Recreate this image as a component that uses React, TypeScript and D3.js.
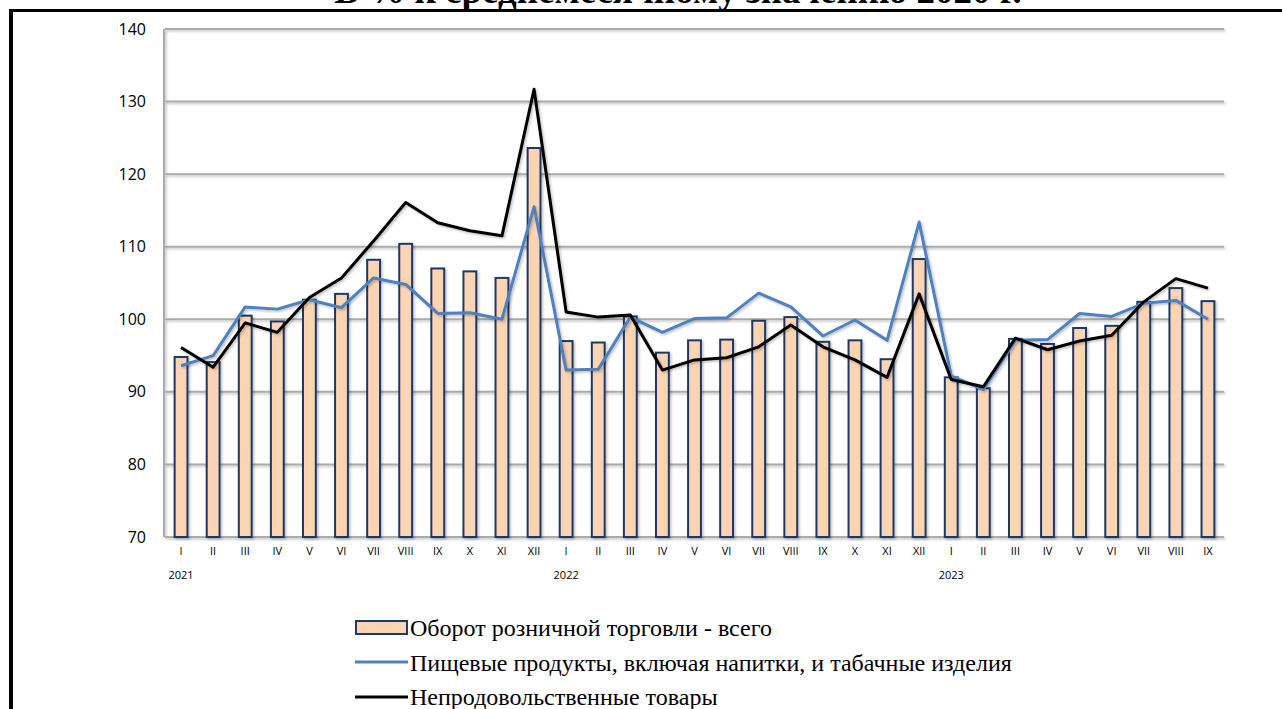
import React from "react";
import * as d3 from "d3";

const months = ["I", "II", "III", "IV", "V", "VI", "VII", "VIII", "IX", "X", "XI", "XII"];
const years = ["2021", "2022", "2023"];

// 2021 I .. 2023 IX
const categories: { month: string; year: string }[] = [];
years.forEach((y, yi) => {
  const n = yi === 2 ? 9 : 12;
  for (let i = 0; i < n; i++) categories.push({ month: months[i], year: y });
});

const totalTurnover = [
  94.8, 94.1, 100.5, 99.7, 102.7, 103.5, 108.2, 110.4, 107.0, 106.6, 105.7, 123.6,
  97.0, 96.8, 100.4, 95.4, 97.1, 97.2, 99.8, 100.3, 96.9, 97.1, 94.5, 108.3,
  92.0, 90.5, 97.3, 96.6, 98.8, 99.1, 102.4, 104.3, 102.5,
];
const foodProducts = [
  93.6, 95.0, 101.7, 101.4, 102.7, 101.6, 105.7, 104.8, 100.8, 100.9, 100.0, 115.5,
  93.0, 93.1, 100.3, 98.2, 100.1, 100.2, 103.6, 101.7, 97.7, 99.9, 97.1, 113.4,
  92.2, 90.3, 97.1, 97.2, 100.8, 100.4, 102.2, 102.6, 100.0,
];
const nonFood = [
  96.1, 93.4, 99.5, 98.2, 103.0, 105.7, 110.8, 116.1, 113.3, 112.2, 111.5, 131.7,
  101.0, 100.3, 100.6, 93.0, 94.4, 94.7, 96.2, 99.2, 96.2, 94.4, 92.0, 103.5,
  91.7, 90.7, 97.4, 95.8, 97.0, 97.8, 102.4, 105.6, 104.3,
];
const yTicks = [70, 80, 90, 100, 110, 120, 130, 140];
const legendLabels = [
  "Оборот розничной торговли - всего",
  "Пищевые продукты, включая напитки, и табачные изделия",
  "Непродовольственные товары",
];

const W = 1282;
const H = 709;
const left = 165;
const right = 1224;
const top = 29;
const bottom = 537;

const sans = "Open Sans, Liberation Sans, sans-serif";
const serif = "Liberation Serif, Times New Roman, DejaVu Serif, serif";

export default function App() {
  const x = d3
    .scaleBand<number>()
    .domain(categories.map((_, i) => i))
    .range([left, right]);
  const y = d3.scaleLinear().domain([70, 140]).range([bottom, top]);
  const barW = x.bandwidth() * 0.4;
  const cx = (i: number) => (x(i) as number) + x.bandwidth() / 2;

  const line = d3
    .line<number>()
    .x((_, i) => cx(i))
    .y((d) => y(d));

  return (
    <div style={{ position: "absolute", left: 0, top: 0 }}>
      <svg width={W} height={H} style={{ display: "block", background: "#fff" }}>
        <defs>
          <filter id="sh" x="-20%" y="-20%" width="140%" height="140%">
            <feDropShadow dx="1.5" dy="1.5" stdDeviation="1" floodColor="#000" floodOpacity="0.25" />
          </filter>
        </defs>

        {/* title, cut off by the top edge as in the source */}
        <text x={678} y={3} textAnchor="middle" style={{ fontFamily: serif, fontSize: 37, fontWeight: "bold" }}>
          В % к среднемесячному значению 2020 г.
        </text>

        {/* frame */}
        <line x1={9} x2={W} y1={10.5} y2={10.5} stroke="#000" strokeWidth={3} />
        <line x1={11} x2={11} y1={9} y2={H} stroke="#000" strokeWidth={4} />

        {/* grid */}
        <g filter="url(#sh)">
          {yTicks.map((t) => (
            <line key={t} x1={left} x2={right} y1={y(t)} y2={y(t)} stroke="#ababab" strokeWidth={2} />
          ))}
          <line x1={left - 1} x2={left - 1} y1={top} y2={bottom} stroke="#ababab" strokeWidth={2} />
        </g>

        {yTicks.map((t) => (
          <text key={t} x={146} y={y(t)} dy="0.35em" textAnchor="end" style={{ fontFamily: sans, fontSize: 16 }}>
            {t}
          </text>
        ))}

        {/* bars */}
        <g filter="url(#sh)">
          {totalTurnover.map((v, i) => (
            <rect
              key={i}
              x={cx(i) - barW / 2}
              y={y(v)}
              width={barW}
              height={bottom - y(v)}
              fill="#fbd4b4"
              stroke="#1f3864"
              strokeWidth={2}
            />
          ))}
        </g>

        {/* lines */}
        <g filter="url(#sh)">
          <path d={line(foodProducts) || ""} fill="none" stroke="#4f81bd" strokeWidth={3} strokeLinejoin="round" />
          <path d={line(nonFood) || ""} fill="none" stroke="#000" strokeWidth={3} strokeLinejoin="round" />
        </g>

        {/* x labels */}
        {categories.map((c, i) => (
          <text key={i} x={cx(i)} y={555} textAnchor="middle" style={{ fontFamily: sans, fontSize: 11 }}>
            {c.month}
          </text>
        ))}
        {categories.map((c, i) =>
          c.month === "I" ? (
            <text key={"y" + i} x={cx(i)} y={579} textAnchor="middle" style={{ fontFamily: sans, fontSize: 11 }}>
              {c.year}
            </text>
          ) : null
        )}

        {/* legend */}
        <g>
          <rect x={356} y={621} width={51} height={13} fill="#fbd4b4" stroke="#1f3864" strokeWidth={2} />
          <line x1={355} x2={408} y1={662} y2={662} stroke="#4f81bd" strokeWidth={3} />
          <line x1={355} x2={408} y1={697} y2={697} stroke="#000" strokeWidth={3} />
          {legendLabels.map((l, i) => (
            <text key={l} x={410} y={628 + i * 34.5} dy="0.35em" style={{ fontFamily: serif, fontSize: 24 }}>
              {l}
            </text>
          ))}
        </g>
      </svg>
    </div>
  );
}
